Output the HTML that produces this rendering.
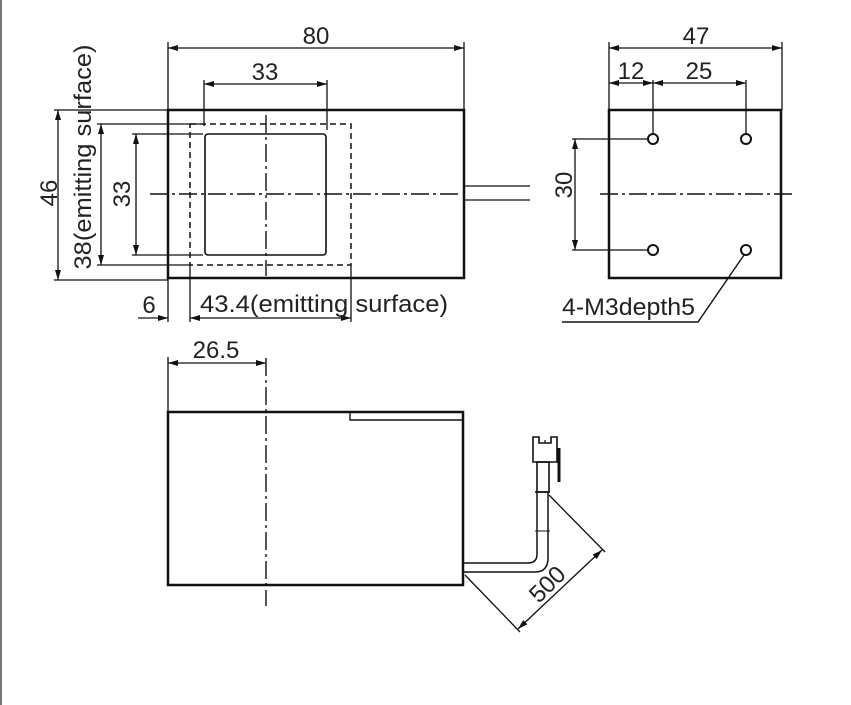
<!DOCTYPE html>
<html><head><meta charset="utf-8"><style>
html,body{margin:0;padding:0;background:#fff;width:851px;height:705px;overflow:hidden}
text{font-family:"Liberation Sans",sans-serif;fill:#222}
</style></head><body>
<svg width="851" height="705" viewBox="0 0 851 705" xmlns="http://www.w3.org/2000/svg">
<defs>
<marker id="a" viewBox="0 0 10 6" refX="10" refY="3" markerWidth="10" markerHeight="6" orient="auto-start-reverse" markerUnits="userSpaceOnUse"><path d="M0,0L10,3L0,6z" fill="#111"/></marker>
</defs>
<line x1="1" y1="0" x2="1" y2="705" stroke="#777" stroke-width="2"/>
<g stroke="#111" fill="none">
<rect x="168" y="110" width="296" height="168" stroke-width="2.5"/>
<rect x="190" y="124" width="161" height="141" stroke-width="1.5" stroke-dasharray="6,4"/>
<rect x="205" y="134" width="121" height="121" rx="3" stroke-width="1.6"/>
<line x1="150" y1="194" x2="462" y2="194" stroke-width="1.4" stroke-dasharray="18,4,3,4"/>
<line x1="266" y1="115" x2="266" y2="276" stroke-width="1.4" stroke-dasharray="18,4,3,4"/>
<line x1="464" y1="186" x2="530" y2="186" stroke-width="1.3"/>
<line x1="464" y1="200" x2="530" y2="200" stroke-width="1.3"/>
<line x1="168" y1="42" x2="168" y2="110" stroke-width="1.3"/>
<line x1="464" y1="42" x2="464" y2="110" stroke-width="1.3"/>
<line x1="168" y1="48" x2="464" y2="48" stroke-width="1.3" marker-start="url(#a)" marker-end="url(#a)"/>
<line x1="204" y1="80" x2="204" y2="126" stroke-width="1.3"/>
<line x1="327" y1="80" x2="327" y2="130" stroke-width="1.3"/>
<line x1="204" y1="84" x2="327" y2="84" stroke-width="1.3" marker-start="url(#a)" marker-end="url(#a)"/>
<line x1="54" y1="110" x2="168" y2="110" stroke-width="1.3"/>
<line x1="54" y1="280" x2="168" y2="280" stroke-width="1.3"/>
<line x1="58" y1="110" x2="58" y2="280" stroke-width="1.3" marker-start="url(#a)" marker-end="url(#a)"/>
<line x1="97" y1="124" x2="200" y2="124" stroke-width="1.3"/>
<line x1="97" y1="265" x2="190" y2="265" stroke-width="1.3"/>
<line x1="101" y1="124" x2="101" y2="265" stroke-width="1.3" marker-start="url(#a)" marker-end="url(#a)"/>
<line x1="132" y1="134" x2="203" y2="134" stroke-width="1.3"/>
<line x1="132" y1="255" x2="203" y2="255" stroke-width="1.3"/>
<line x1="136" y1="134" x2="136" y2="255" stroke-width="1.3" marker-start="url(#a)" marker-end="url(#a)"/>
<line x1="168" y1="278" x2="168" y2="322" stroke-width="1.3"/>
<line x1="190" y1="265" x2="190" y2="322" stroke-width="1.3"/>
<line x1="351" y1="265" x2="351" y2="322" stroke-width="1.3"/>
<line x1="138" y1="318" x2="168" y2="318" stroke-width="1.3" marker-end="url(#a)"/>
<line x1="190" y1="318" x2="351" y2="318" stroke-width="1.3" marker-start="url(#a)" marker-end="url(#a)"/>

<rect x="609" y="110" width="172" height="168" stroke-width="2.5"/>
<line x1="600" y1="194" x2="795" y2="194" stroke-width="1.4" stroke-dasharray="18,4,3,4"/>
<circle cx="653" cy="139" r="5" stroke-width="2"/>
<circle cx="746" cy="139" r="5" stroke-width="2"/>
<circle cx="653" cy="250" r="5" stroke-width="2"/>
<circle cx="746" cy="250" r="5" stroke-width="2"/>
<line x1="609" y1="42" x2="609" y2="110" stroke-width="1.3"/>
<line x1="782" y1="42" x2="782" y2="110" stroke-width="1.3"/>
<line x1="609" y1="48" x2="782" y2="48" stroke-width="1.3" marker-start="url(#a)" marker-end="url(#a)"/>
<line x1="653" y1="80" x2="653" y2="133" stroke-width="1.3"/>
<line x1="746" y1="80" x2="746" y2="133" stroke-width="1.3"/>
<line x1="609" y1="83" x2="653" y2="83" stroke-width="1.3" marker-start="url(#a)" marker-end="url(#a)"/>
<line x1="653" y1="83" x2="746" y2="83" stroke-width="1.3" marker-start="url(#a)" marker-end="url(#a)"/>
<line x1="572" y1="139" x2="647" y2="139" stroke-width="1.3"/>
<line x1="572" y1="250" x2="647" y2="250" stroke-width="1.3"/>
<line x1="575" y1="139" x2="575" y2="250" stroke-width="1.3" marker-start="url(#a)" marker-end="url(#a)"/>
<polyline points="744,255 698,322 562,322" stroke-width="1.4"/>

<rect x="168" y="412" width="295" height="173" stroke-width="2.5"/>
<polyline points="350,412 350,420 463,420" stroke-width="1.4"/>
<line x1="266" y1="358" x2="266" y2="606" stroke-width="1.4" stroke-dasharray="18,4,3,4"/>
<line x1="168" y1="357" x2="168" y2="412" stroke-width="1.3"/>
<line x1="168" y1="363" x2="266" y2="363" stroke-width="1.3" marker-start="url(#a)" marker-end="url(#a)"/>
<path d="M463,563 L528,563 Q537,563 537,554 L537,492" stroke-width="1.5"/>
<path d="M463,572 L535,572 Q548,572 548,558 L548,492" stroke-width="1.5"/>
<rect x="537" y="462" width="12" height="30" stroke-width="1.6"/>
<path d="M533,462 L533,437 L539,437 L539,443 L551,443 L551,437 L557,437 L557,462 Z" stroke-width="1.6"/>
<line x1="545" y1="440" x2="545" y2="443" stroke-width="1.2"/>
<line x1="559" y1="448" x2="559" y2="482" stroke-width="3"/>
<line x1="535" y1="492" x2="550" y2="492" stroke-width="1.5"/>
<line x1="535" y1="531" x2="550" y2="531" stroke-width="1"/>
<line x1="549" y1="495" x2="605" y2="552" stroke-width="1.3"/>
<line x1="465" y1="575" x2="520" y2="632" stroke-width="1.3"/>
<line x1="518" y1="629" x2="602" y2="550" stroke-width="1.3" marker-start="url(#a)" marker-end="url(#a)"/>
</g>
<g font-size="24">
<text x="316" y="44" text-anchor="middle">80</text>
<text x="265" y="80" text-anchor="middle">33</text>
<text x="696" y="44" text-anchor="middle">47</text>
<text x="631" y="79" text-anchor="middle">12</text>
<text x="699" y="79" text-anchor="middle">25</text>
<text x="149" y="313" text-anchor="middle">6</text>
<text x="200" y="312" textLength="248" lengthAdjust="spacingAndGlyphs">43.4(emitting surface)</text>
<text x="562" y="315" textLength="133" lengthAdjust="spacingAndGlyphs">4-M3depth5</text>
<text x="216" y="358" text-anchor="middle">26.5</text>
<text transform="translate(57,193) rotate(-90)" text-anchor="middle">46</text>
<text transform="translate(91,157) rotate(-90)" text-anchor="middle" textLength="225" lengthAdjust="spacingAndGlyphs">38(emitting surface)</text>
<text transform="translate(130,194) rotate(-90)" text-anchor="middle">33</text>
<text transform="translate(572,185) rotate(-90)" text-anchor="middle">30</text>
<text transform="translate(553,590) rotate(-45)" text-anchor="middle">500</text>
</g>
</svg>
</body></html>
